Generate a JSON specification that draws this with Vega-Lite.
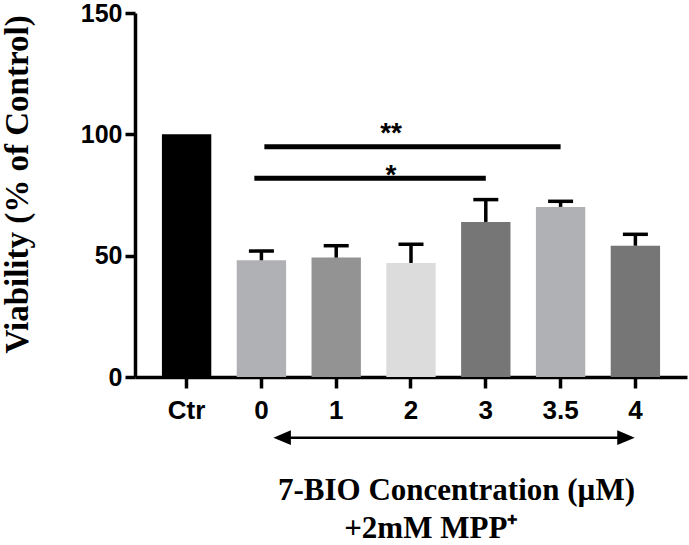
{
  "$schema": "https://vega.github.io/schema/vega-lite/v6.json",
  "width": 552,
  "height": 364,
  "autosize": "none",
  "padding": {"left": 135, "top": 13, "right": 2, "bottom": 168},
  "background": "white",
  "config": {"view": {"stroke": null}, "axis": {"grid": false}},
  "datasets": {
    "bars": [
      {"x": "Ctr", "y": 100, "upper": null},
      {"x": "0", "y": 48.1, "upper": 51.9},
      {"x": "1", "y": 49.2, "upper": 54.1},
      {"x": "2", "y": 47.0, "upper": 54.7},
      {"x": "3", "y": 63.9, "upper": 73.1},
      {"x": "3.5", "y": 70.1, "upper": 72.4},
      {"x": "4", "y": 54.1, "upper": 58.8}
    ],
    "sig1": [{"x": "0", "x2": "3", "y": 81.9}],
    "sig2": [{"x": "0", "x2": "3.5", "y": 94.9}],
    "star1": [{"x": "2", "y": 79.5, "label": "*"}],
    "star2": [{"x": "2", "y": 96.7, "label": "**"}],
    "arrow": [{"x": "0", "x2": "4", "y": -25}],
    "headL": [{"x": "0", "y": -25}],
    "headR": [{"x": "4", "y": -25}],
    "subtitle": [{"x": "2", "y": -66.3, "label": "+2mM MPP⁺"}]
  },
  "encoding": {
    "x": {
      "field": "x", "type": "nominal", "sort": null,
      "scale": {"domain": ["Ctr", "0", "1", "2", "3", "3.5", "4"], "paddingInner": 0.34, "paddingOuter": 0.36},
      "axis": {
        "title": "7-BIO Concentration (µM)",
        "titleFont": "Liberation Serif", "titleFontWeight": "bold", "titleFontSize": 31, "titleColor": "black",
        "titleX": 321, "titleY": 122, "titleAlign": "center", "titleBaseline": "alphabetic",
        "labelFont": "Liberation Sans", "labelFontWeight": "bold", "labelFontSize": 26, "labelColor": "black",
        "labelAngle": 0, "labelPadding": 9,
        "tickSize": 11, "tickWidth": 3.5, "tickColor": "black",
        "domainWidth": 3.5, "domainColor": "black"
      }
    },
    "y": {
      "field": "y", "type": "quantitative",
      "scale": {"domain": [0, 150], "nice": false},
      "axis": {
        "title": "Viability (% of Control)",
        "titleFont": "Liberation Serif", "titleFontWeight": "bold", "titleFontSize": 33, "titleColor": "black",
        "titleX": -118, "titleY": 171, "titleAngle": -90, "titleAlign": "center", "titleBaseline": "middle",
        "values": [0, 50, 100, 150],
        "labelFont": "Liberation Sans", "labelFontWeight": "bold", "labelFontSize": 25, "labelColor": "black",
        "labelPadding": 3, "tickSize": 10, "tickWidth": 3.5, "tickColor": "black",
        "domainWidth": 3.5, "domainColor": "black"
      }
    }
  },
  "layer": [
    {
      "data": {"name": "bars"},
      "mark": {"type": "bar"},
      "encoding": {
        "color": {
          "field": "x", "type": "nominal", "legend": null,
          "scale": {"domain": ["Ctr", "0", "1", "2", "3", "3.5", "4"],
                    "range": ["#000000", "#b0b1b4", "#939393", "#dcdcdc", "#767676", "#b0b1b4", "#767676"]}
        }
      }
    },
    {
      "data": {"name": "bars"},
      "mark": {"type": "rule", "color": "black", "strokeWidth": 3.5},
      "encoding": {"y2": {"field": "upper"}}
    },
    {
      "data": {"name": "bars"},
      "mark": {"type": "tick", "color": "black", "size": 25, "thickness": 3.5, "orient": "horizontal", "opacity": 1},
      "encoding": {"y": {"field": "upper", "type": "quantitative"}}
    },
    {
      "data": {"name": "sig1"},
      "mark": {"type": "rule", "color": "black", "strokeWidth": 5},
      "encoding": {
        "x": {"field": "x", "type": "nominal", "sort": null, "bandPosition": 0.357},
        "x2": {"field": "x2", "bandPosition": 0.5}
      }
    },
    {
      "data": {"name": "sig2"},
      "mark": {"type": "rule", "color": "black", "strokeWidth": 5},
      "encoding": {
        "x": {"field": "x", "type": "nominal", "sort": null, "bandPosition": 0.56},
        "x2": {"field": "x2", "bandPosition": 0.5}
      }
    },
    {
      "data": {"name": "star1"},
      "mark": {"type": "text", "font": "Liberation Sans", "fontWeight": "bold", "fontSize": 28, "align": "center", "baseline": "alphabetic", "color": "black"},
      "encoding": {
        "x": {"field": "x", "type": "nominal", "sort": null, "bandPosition": 0.096},
        "text": {"field": "label"}
      }
    },
    {
      "data": {"name": "star2"},
      "mark": {"type": "text", "font": "Liberation Sans", "fontWeight": "bold", "fontSize": 28, "align": "center", "baseline": "alphabetic", "color": "black"},
      "encoding": {
        "x": {"field": "x", "type": "nominal", "sort": null, "bandPosition": 0.096},
        "text": {"field": "label"}
      }
    },
    {
      "data": {"name": "arrow"},
      "mark": {"type": "rule", "color": "black", "strokeWidth": 2.5},
      "encoding": {
        "x": {"field": "x", "type": "nominal", "sort": null, "bandPosition": 0.92},
        "x2": {"field": "x2", "bandPosition": 0.31}
      }
    },
    {
      "data": {"name": "headL"},
      "mark": {"type": "point", "filled": true, "opacity": 1, "color": "black", "size": 306, "shape": "M-1,0L1,-0.85L1,0.85Z", "strokeWidth": 0},
      "encoding": {
        "x": {"field": "x", "type": "nominal", "sort": null, "bandPosition": 0.92}
      }
    },
    {
      "data": {"name": "headR"},
      "mark": {"type": "point", "filled": true, "opacity": 1, "color": "black", "size": 306, "shape": "M1,0L-1,-0.85L-1,0.85Z", "strokeWidth": 0},
      "encoding": {
        "x": {"field": "x", "type": "nominal", "sort": null, "bandPosition": 0.31}
      }
    },
    {
      "data": {"name": "subtitle"},
      "mark": {"type": "text", "font": "Liberation Serif", "fontWeight": "bold", "fontSize": 31, "align": "center", "baseline": "alphabetic", "color": "black"},
      "encoding": {
        "x": {"field": "x", "type": "nominal", "sort": null, "bandPosition": 0.9},
        "text": {"field": "label"}
      }
    }
  ]
}
